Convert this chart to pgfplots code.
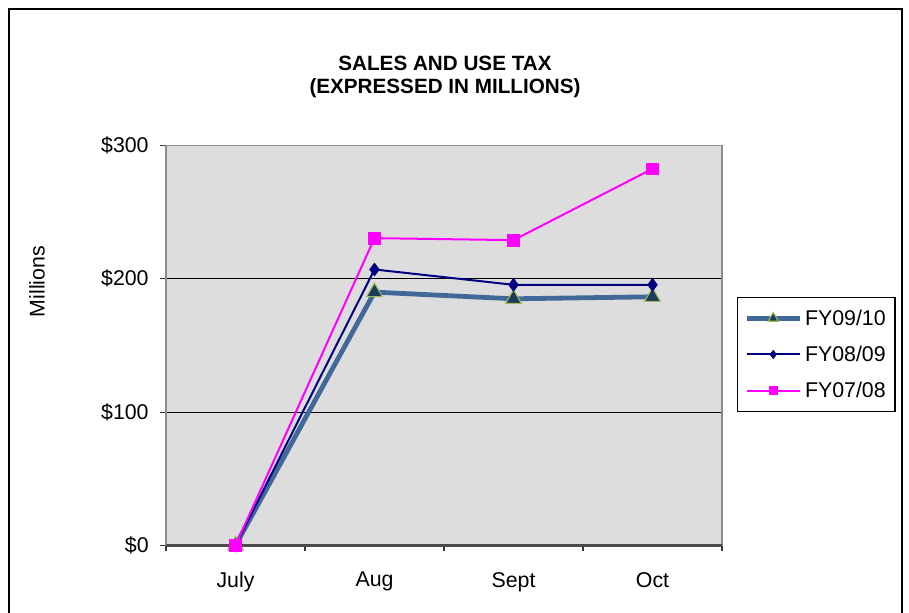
\documentclass[border=0pt]{standalone}
\usepackage{pgfplots}
\pgfplotsset{compat=1.18}
\usepackage{fontspec}
\setmainfont{Liberation Sans}
\definecolor{bg}{RGB}{221,221,221}
\definecolor{sline}{RGB}{66,104,154}
\definecolor{sfill}{RGB}{28,58,90}
\definecolor{sedge}{RGB}{155,187,89}
\definecolor{navy}{RGB}{0,0,128}
\definecolor{mag}{RGB}{255,0,255}
\begin{document}
\begin{tikzpicture}[x=0.75pt,y=0.75pt]
\path[use as bounding box, fill=white] (0,0) rectangle (909,612);
\draw[line width=2.2pt, black] (9,-5) -- (9,603) -- (902,603) -- (902,-5);
\node[font=\bfseries\fontsize{15.5}{17}\selectfont, align=center] at (445,535) {SALES AND USE TAX\\(EXPRESSED IN MILLIONS)};
\begin{axis}[
  at={(124.5pt,49.9pt)}, anchor=south west,
  width=417pt, height=300pt, scale only axis,
  xmin=-0.5, xmax=3.5, ymin=0, ymax=300,
  clip=false,
  font=\fontsize{16}{18}\selectfont,
  /pgf/number format/assume math mode=true,
  tick pos=left,
  xtick={0,1,2,3}, xticklabels={July,Aug,Sept,Oct},
  major x tick style={draw=none},
  minor xtick={-0.5,0.5,1.5,2.5,3.5},
  minor x tick style={draw=black!80, line width=0.9pt},
  minor tick length=4.5pt,
  ytick={0,100,200,300},
  yticklabel={\$\pgfmathprintnumber{\tick}},
  major y tick style={draw=black!80, line width=0.9pt},
  major tick length=4.5pt,
  tick align=outside,
  xticklabel style={yshift=-12pt},
  yticklabel style={xshift=-5pt},
  ymajorgrids, grid style={black, line width=0.9pt},
  axis background/.style={fill=bg},
  axis line style={draw=black!45, line width=1.4pt},
  ylabel={Millions},
  ylabel style={at={(axis description cs:-0.232,0.66)}, anchor=center, font=\fontsize{16}{18}\selectfont},
  legend style={at={(axis description cs:1.027,0.621)}, anchor=north west,
    draw=black, line width=0.8pt, font=\fontsize{16}{18}\selectfont,
    row sep=10pt, inner xsep=5pt, inner ysep=7pt},
  legend cell align=left,
  legend image code/.code={\draw[mark repeat=2,mark phase=2, every mark/.append style={scale=0.65}] plot coordinates {(0pt,0pt)(20pt,0pt)(40pt,0pt)};},
]
\draw[black!70, line width=2.2pt] (axis cs:-0.5,0) -- (axis cs:3.5,0);
\addplot[sline, line width=3.6pt, mark=triangle*, mark size=6.8pt,
  mark options={fill=sfill, draw=sedge, line width=0.8pt}]
  coordinates {(0,0) (1,190) (2,185) (3,186.5)};
\addlegendentry{FY09/10}
\addplot[navy, line width=1.5pt, mark=diamond*, mark size=4.8pt,
  mark options={fill=navy, draw=navy, line width=0.5pt}]
  coordinates {(0,0) (1,207) (2,195.5) (3,195.5)};
\addlegendentry{FY08/09}
\addplot[mag, line width=1.5pt, mark=square*, mark size=4.4pt,
  mark options={fill=mag, draw=mag, line width=0.5pt}]
  coordinates {(0,0) (1,230.5) (2,229) (3,282.5)};
\addlegendentry{FY07/08}
\end{axis}
\end{tikzpicture}
\end{document}
